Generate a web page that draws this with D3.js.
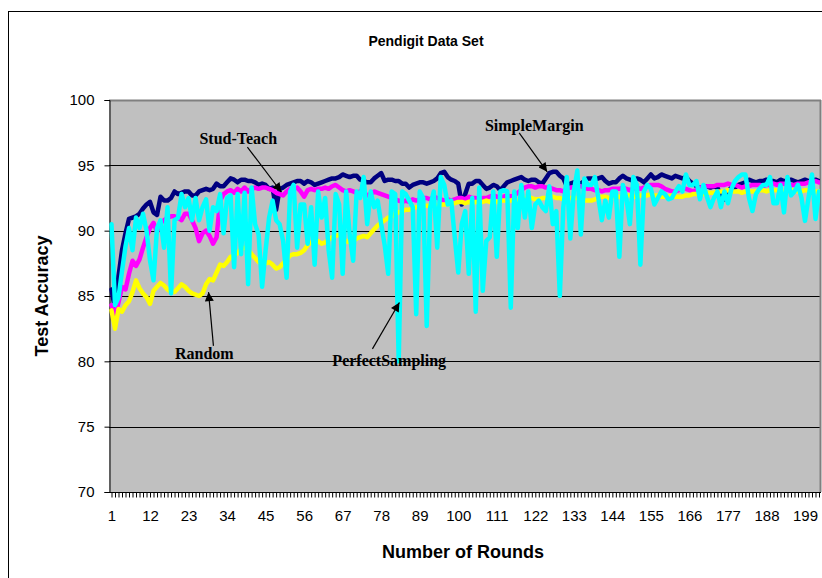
<!DOCTYPE html>
<html>
<head>
<meta charset="utf-8">
<script src="https://cdn.jsdelivr.net/npm/d3@7/dist/d3.min.js"></script>
<style>
  html, body { margin: 0; padding: 0; background: #fff; }
  svg { display: block; }
</style>
</head>
<body>
<svg id="chart" width="822" height="578"></svg>
<script>
// Rounds 1..203 of active learning on the Pendigit data set
const rounds = d3.range(1, 204);
const xTickLabels = [1, 12, 23, 34, 45, 56, 67, 78, 89, 100, 111, 122, 133, 144, 155, 166, 177, 188, 199];
const yTicks = [70, 75, 80, 85, 90, 95, 100];

const simpleMargin = [
  85.5, 84.0, 86.5, 88.5, 89.8, 90.9, 91.0, 91.1, 91.3, 91.7,
  92.0, 92.2, 91.4, 91.2, 92.6, 92.3, 92.3, 92.5, 93.0, 92.8,
  92.9, 93.0, 93.0, 92.7, 92.7, 93.0, 93.1, 93.2, 93.1, 93.2,
  93.6, 93.4, 93.4, 93.7, 94.0, 93.9, 93.7, 93.9, 93.9, 93.8,
  93.8, 93.7, 93.5, 93.6, 93.5, 93.2, 93.3, 91.6, 93.2, 93.3,
  93.5, 93.6, 93.7, 93.8, 93.8, 93.6, 93.8, 93.7, 93.5, 93.6,
  93.7, 93.8, 93.9, 94.0, 94.0, 94.1, 94.3, 94.2, 94.1, 94.2,
  94.2, 93.9, 93.8, 93.7, 93.7, 94.0, 94.2, 94.4, 93.8, 93.9,
  93.9, 93.8, 93.8, 93.6, 93.6, 93.3, 93.5, 93.6, 93.7, 93.7,
  93.6, 93.7, 93.8, 94.0, 94.4, 94.5, 94.1, 93.9, 93.8, 93.6,
  92.0, 92.8, 93.6, 93.6, 93.8, 93.8, 93.5, 93.2, 93.3, 93.5,
  93.4, 93.1, 93.4, 93.7, 93.8, 93.9, 94.0, 94.1, 93.9, 93.8,
  93.9, 93.9, 93.7, 93.6, 94.0, 94.4, 94.5, 94.5, 94.2, 94.0,
  93.4, 93.6, 93.7, 93.7, 93.6, 93.8, 94.0, 94.0, 93.9, 94.0,
  94.1, 93.8, 93.6, 93.7, 93.7, 94.0, 94.2, 94.0, 93.9, 93.8,
  94.0, 93.9, 93.7, 94.0, 94.3, 94.0, 94.1, 94.3, 94.2, 94.1,
  94.0, 94.2, 94.1, 94.0, 94.1, 93.8, 93.6, 93.4, 93.3, 93.3,
  93.4, 93.3, 93.4, 93.3, 92.6, 92.4, 93.0, 93.3, 93.3, 93.5,
  93.6, 93.7, 93.9, 93.8, 93.7, 93.8, 93.8, 93.9, 93.8, 93.8,
  93.7, 93.9, 93.8, 93.8, 93.9, 93.8, 93.7, 93.8, 93.9, 93.8,
  93.8, 93.9, 93.8
];

const studTeach = [
  84.3, 83.5, 84.5, 85.7, 85.5, 86.7, 87.7, 87.3, 87.8, 88.7,
  89.5, 90.2, 90.6, 89.9, 90.6, 90.8, 91.0, 91.1, 91.1, 91.0,
  90.8, 91.3, 91.3, 90.8, 90.2, 89.2, 89.8, 90.0, 89.6, 89.0,
  89.5, 92.3, 92.8, 93.0, 93.1, 92.9, 93.2, 93.0, 93.3, 93.0,
  93.2, 93.3, 93.2, 93.3, 93.3, 93.2, 93.1, 92.9, 92.8, 92.7,
  93.0, 93.2, 93.2, 93.3, 93.0, 92.6, 93.1, 93.2, 93.1, 93.2,
  93.2, 93.3, 93.2, 93.4, 93.5, 93.3, 93.1, 93.0, 93.1, 93.0,
  92.9, 93.0, 92.9, 92.7, 92.8, 93.0, 92.9, 92.8, 92.7, 92.6,
  92.5, 92.4, 92.3, 92.2, 92.3, 92.2, 92.4, 92.3, 92.4, 92.5,
  92.5, 92.4, 92.6, 92.5, 92.4, 92.3, 92.4, 92.3, 92.4, 92.5,
  92.5, 92.4, 92.6, 92.5, 92.5, 92.4, 92.5, 92.5, 92.6, 92.7,
  92.6, 92.5, 92.6, 92.7, 92.6, 92.7, 92.9, 93.1, 93.3, 93.4,
  93.4, 93.3, 93.4, 93.4, 93.3, 93.3, 93.2, 93.1, 93.1, 93.0,
  93.2, 93.3, 93.3, 93.4, 93.4, 93.3, 93.2, 93.2, 93.1, 93.1,
  93.0, 93.1, 93.1, 93.2, 93.2, 93.2, 93.3, 93.2, 93.1, 93.2,
  93.3, 93.2, 93.3, 93.4, 93.5, 93.5, 93.5, 93.4, 93.2, 93.1,
  93.0, 93.0, 93.1, 93.2, 93.2, 93.1, 93.0, 93.1, 93.3, 93.3,
  93.4, 93.4, 93.4, 93.5, 93.5, 93.5, 93.6, 93.5, 93.5, 93.4,
  93.3, 93.4, 93.4, 93.5, 93.5, 93.5, 93.4, 93.5, 93.5, 93.6,
  93.5, 93.6, 93.6, 93.5, 93.5, 93.5, 93.6, 93.6, 93.6, 93.7,
  93.7, 93.8, 93.7
];

const randomSel = [
  83.9, 82.5, 84.0, 83.8, 84.3, 84.6, 85.3, 86.2, 85.6, 85.2,
  84.9, 84.4, 85.4, 85.7, 86.0, 85.8, 85.5, 85.3, 85.3, 85.6,
  85.9, 85.7, 85.4, 85.2, 85.1, 85.0, 85.2, 85.9, 86.3, 86.2,
  86.8, 87.4, 87.3, 87.6, 88.0, 88.1, 88.3, 88.6, 88.7, 88.6,
  88.2, 87.9, 87.6, 87.4, 87.5, 87.6, 87.4, 87.1, 87.2, 87.5,
  87.8, 88.1, 88.2, 88.2, 88.3, 88.5, 88.9, 89.1, 89.2, 89.2,
  89.0, 89.1, 89.3, 89.5, 89.6, 89.7, 89.4, 89.2, 89.1, 89.2,
  89.4, 89.5, 89.6, 89.5, 89.8, 90.1, 90.4, 90.6, 90.8, 91.0,
  91.1, 91.3, 91.4, 91.5, 91.6, 91.6, 91.7, 91.8, 91.8, 91.9,
  91.9, 91.9, 92.0, 91.9, 92.0, 92.0, 92.0, 92.1, 92.1, 92.2,
  92.2, 92.1, 92.2, 92.1, 92.2, 92.2, 92.2, 92.3, 92.2, 92.2,
  92.2, 92.3, 92.3, 92.3, 92.3, 92.4, 92.3, 92.4, 92.5, 92.5,
  92.5, 92.4, 92.4, 92.5, 92.5, 92.6, 92.6, 92.5, 92.5, 92.4,
  92.4, 92.5, 92.5, 92.5, 92.4, 92.3, 92.3, 92.3, 92.4, 92.5,
  92.6, 92.6, 92.5, 92.5, 92.6, 92.6, 92.6, 92.7, 92.7, 92.6,
  92.6, 92.7, 92.7, 92.7, 92.8, 92.7, 92.7, 92.6, 92.6, 92.6,
  92.7, 92.6, 92.6, 92.6, 92.7, 92.7, 92.8, 92.8, 92.8, 92.8,
  92.9, 92.9, 92.9, 93.0, 93.0, 93.0, 93.1, 93.0, 93.0, 93.0,
  92.9, 93.0, 93.0, 93.0, 93.0, 93.1, 93.1, 93.0, 93.1, 93.1,
  93.1, 93.0, 93.0, 93.0, 93.1, 93.1, 93.0, 93.0, 93.1, 93.1,
  93.1, 93.0, 93.0
];

const perfectSampling = [
  90.5, 84.3, 84.9, 86.9, 88.8, 90.2, 88.5, 91.0, 90.2, 91.3,
  90.0, 87.7, 86.2, 90.2, 90.8, 88.7, 91.8, 85.2, 90.8, 91.0,
  92.8, 91.8, 92.5, 90.8, 92.5, 90.8, 91.8, 92.4, 90.0, 91.8,
  91.5, 92.8, 89.8, 92.5, 92.7, 87.2, 92.8, 88.2, 92.9, 85.9,
  93.3, 90.5, 89.7, 85.7, 88.5, 91.0, 92.3, 90.8, 90.5, 89.2,
  86.4, 93.0, 93.5, 88.7, 92.0, 92.0, 89.0, 91.8, 87.4, 93.0,
  91.0, 92.5, 88.5, 86.4, 92.8, 92.0, 86.7, 93.0, 89.7, 87.7,
  93.0, 92.5, 94.1, 90.5, 93.0, 91.8, 92.3, 90.5, 88.9, 86.7,
  93.0, 92.8, 80.0, 93.0, 92.8, 92.3, 91.8, 83.6, 93.0, 92.5,
  82.7, 91.8, 93.0, 88.7, 94.1, 93.5, 92.0, 92.3, 89.5, 86.8,
  90.5, 91.5, 86.7, 92.5, 83.8, 93.3, 85.4, 89.2, 89.5, 93.0,
  88.0, 93.0, 93.1, 93.0, 84.1, 93.0, 90.2, 93.5, 91.0, 93.0,
  90.2, 92.0, 92.3, 91.8, 91.5, 93.4, 90.5, 91.5, 85.0, 91.8,
  94.1, 89.4, 93.0, 94.6, 89.7, 94.0, 93.5, 93.5, 94.1, 92.5,
  90.8, 92.3, 91.0, 93.0, 93.0, 88.0, 93.5, 92.5, 90.5, 94.1,
  93.5, 87.4, 93.0, 93.5, 93.2, 92.0, 92.5, 93.0, 92.8, 92.4,
  92.5, 93.0, 93.4, 93.0, 94.3, 93.5, 93.5, 93.8, 92.4, 93.5,
  92.6, 91.8, 92.5, 93.0, 91.8, 93.0, 92.1, 93.2, 93.8, 94.1,
  94.3, 94.3, 92.5, 91.5, 92.8, 93.2, 93.5, 93.5, 94.1, 92.1,
  92.1, 93.5, 91.4, 94.1, 92.7, 93.0, 93.5, 92.5, 90.75, 92.5,
  94.3, 90.9, 93.0
];

const seriesNames = ["SimpleMargin", "Stud-Teach", "Random", "PerfectSampling"];
const seriesValues = [simpleMargin, studTeach, randomSel, perfectSampling];
const seriesColors = ["#000080", "#FF00FF", "#FFFF00", "#00FFFF"];

// Callout labels: text baseline and arrow tail/tip, in (round, accuracy) units
const calloutText = ["Stud-Teach", "SimpleMargin", "Random", "PerfectSampling"];
const calloutLabelAt = [[37.2, 96.63], [121.7, 97.63], [27.5, 80.18], [80.3, 79.65]];
const calloutTail = [[39.8, 96.4], [117.4, 97.48], [30.1, 81.18], [75.5, 80.95]];
const calloutTip = [[49.5, 92.96], [125.4, 94.5], [28.7, 85.3], [83.2, 84.5]];

const svg = d3.select("#chart");
const W = 822, H = 578;
const plot = { left: 109, right: 821, top: 100, bottom: 492 };
const xRange = [111.5, 819];

const x = d3.scalePoint().domain(rounds).range(xRange);
const y = d3.scaleLinear().domain([70, 100]).range([plot.bottom, plot.top]);
// continuous round position for callout placement
const xr = d3.scaleLinear().domain([1, 203]).range(xRange);

// chart area background and frame
svg.append("rect").attr("x", 0).attr("y", 0).attr("width", W).attr("height", H).attr("fill", "#fff");
svg.append("rect").attr("x", 8.5).attr("y", 11.5).attr("width", 900).attr("height", 700)
  .attr("fill", "none").attr("stroke", "#000").attr("stroke-width", 1);

// plot area
svg.append("rect").attr("x", plot.left).attr("y", plot.top)
  .attr("width", plot.right - plot.left).attr("height", plot.bottom - plot.top)
  .attr("fill", "#C0C0C0");

// horizontal gridlines
svg.append("g").selectAll("line").data(yTicks.filter(v => v > 70 && v < 100)).join("line")
  .attr("x1", plot.left).attr("x2", plot.right)
  .attr("y1", d => Math.round(y(d)) + 0.5).attr("y2", d => Math.round(y(d)) + 0.5)
  .attr("stroke", "#000").attr("stroke-width", 1);

// plot border (top / right)
svg.append("line").attr("x1", plot.left).attr("x2", plot.right).attr("y1", plot.top + 0.5).attr("y2", plot.top + 0.5)
  .attr("stroke", "#808080").attr("stroke-width", 2);
svg.append("line").attr("x1", plot.right - 0.5).attr("x2", plot.right - 0.5).attr("y1", plot.top).attr("y2", plot.bottom)
  .attr("stroke", "#808080").attr("stroke-width", 2);

// y axis
const yAxis = d3.axisLeft(y).tickValues(yTicks).tickSize(5).tickPadding(10).tickFormat(d3.format("d"));
const gy = svg.append("g").attr("transform", `translate(${plot.left + 0.5},0)`).call(yAxis);
gy.select(".domain").attr("stroke", "#000");
gy.selectAll(".tick line").attr("stroke", "#000");
gy.selectAll("text").attr("font-family", "Arial, 'Liberation Sans', sans-serif").attr("font-size", 15).attr("fill", "#000");

// x axis: a tick under every round, labels every 11 rounds
const xAxis = d3.axisBottom(x).tickValues(rounds).tickSize(5).tickPadding(13)
  .tickFormat(d => xTickLabels.includes(d) ? String(d) : "");
const gx = svg.append("g").attr("transform", `translate(0,${plot.bottom + 0.5})`).call(xAxis);
gx.select(".domain").attr("d", `M${plot.left},0H${plot.right}`).attr("stroke", "#000");
gx.selectAll(".tick line").attr("stroke", "#000");
gx.selectAll("text").attr("font-family", "Arial, 'Liberation Sans', sans-serif").attr("font-size", 15).attr("fill", "#000");

// series lines
svg.append("clipPath").attr("id", "plotClip").append("rect")
  .attr("x", plot.left).attr("y", plot.top).attr("width", plot.right - plot.left - 1).attr("height", plot.bottom - plot.top);
const line = d3.line().x((d, i) => x(rounds[i])).y(d => y(d));
const gLines = svg.append("g").attr("clip-path", "url(#plotClip)");
seriesValues.forEach((vals, k) => {
  gLines.append("path").datum(vals)
    .attr("d", line)
    .attr("fill", "none")
    .attr("stroke", seriesColors[k])
    .attr("stroke-width", 4.5)
    .attr("stroke-linejoin", "round")
    .attr("stroke-linecap", "round")
    .attr("data-name", seriesNames[k]);
});

// titles
svg.append("text").attr("x", 426).attr("y", 46).attr("text-anchor", "middle")
  .attr("font-family", "Arial, 'Liberation Sans', sans-serif").attr("font-weight", "bold").attr("font-size", 14)
  .text("Pendigit Data Set");
svg.append("text").attr("x", 463).attr("y", 558).attr("text-anchor", "middle")
  .attr("font-family", "Arial, 'Liberation Sans', sans-serif").attr("font-weight", "bold").attr("font-size", 18)
  .text("Number of Rounds");
svg.append("text").attr("transform", "translate(48,296) rotate(-90)").attr("text-anchor", "middle")
  .attr("font-family", "Arial, 'Liberation Sans', sans-serif").attr("font-weight", "bold").attr("font-size", 18)
  .text("Test Accuracy");

// callouts
const defs = svg.append("defs");
defs.append("marker").attr("id", "arrowHead").attr("viewBox", "0 0 10 10")
  .attr("refX", 10).attr("refY", 5).attr("markerWidth", 12).attr("markerHeight", 9)
  .attr("markerUnits", "userSpaceOnUse").attr("orient", "auto")
  .append("path").attr("d", "M0,0L10,5L0,10Z").attr("fill", "#000");

calloutText.forEach((t, k) => {
  svg.append("line")
    .attr("x1", xr(calloutTail[k][0])).attr("y1", y(calloutTail[k][1]))
    .attr("x2", xr(calloutTip[k][0])).attr("y2", y(calloutTip[k][1]))
    .attr("stroke", "#000").attr("stroke-width", 1.2)
    .attr("marker-end", "url(#arrowHead)");
  svg.append("text")
    .attr("x", xr(calloutLabelAt[k][0])).attr("y", y(calloutLabelAt[k][1]))
    .attr("text-anchor", "middle")
    .attr("font-family", "'Times New Roman', 'Liberation Serif', serif").attr("font-weight", "bold").attr("font-size", 16)
    .text(t);
});
</script>
</body>
</html>
